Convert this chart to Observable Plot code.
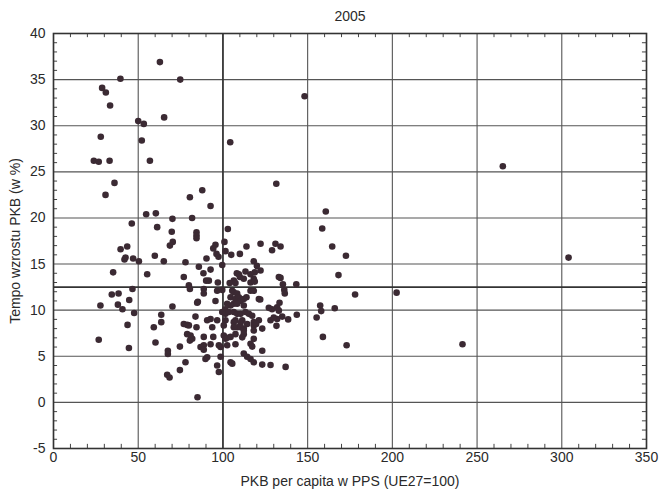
<!DOCTYPE html>
<html>
<head>
<meta charset="utf-8">
<script src="https://cdn.jsdelivr.net/npm/d3@7"></script>
<script src="https://cdn.jsdelivr.net/npm/@observablehq/plot@0.6"></script>
<style>
  html, body { margin: 0; padding: 0; background: #fff; }
</style>
</head>
<body>
<div id="chart"></div>
<script>
const title = "2005";
const xLabel = "PKB per capita w PPS (UE27=100)";
const yLabel = "Tempo wzrostu PKB (w %)";
const xTicks = [0, 50, 100, 150, 200, 250, 300, 350];
const yTicks = [-5, 0, 5, 10, 15, 20, 25, 30, 35, 40];
const refX = 100;
const refY = 12.5;

// GDP per capita in PPS (EU27=100)
const gdpPerCapita = [
  39.5,28.7,30.9,33.4,62.8,74.8,50,53.3,65.3,27.9,52.1,23.8,26.7,33.1,56.9,36,30.7,104.3,80.5,87.8,92.7,148.2,265.2,131.5,160.7,54.7,60.4,70.2,81.8,
  46.2,61.2,69.8,84.4,84.4,84.4,102.9,70.4,68.7,100.9,101.5,95.6,94.3,96.2,97.4,90.3,104.9,110,113.9,122.2,129,131,134,158.6,164.5,172.6,304,
  39.6,43.5,42.5,41.9,47,50.4,59.8,65.1,77.9,118.2,
  85.8,92.7,99.6,120,122.2,108.2,110,113.3,118.8,118.2,134,35.2,55.3,76.9,168.2,143.3,135.4,88.5,109.4,112.3,116.3,116.3,118.8,106.4,107.4,104,133,91.7,97,90.1,79.9,80.5,88.7,88.7,46.6,136.2,136.5,
  96.6,99.6,105.5,106.4,108.4,104.5,107.4,109.4,110.4,112.3,106.4,104.5,102.5,108.4,112.3,116.3,118.2,121.2,113.9,122,95.6,85.2,84.8,129,132,133,133.4,127.1,166,157.4,158,155.3,178,202.5,34.4,38.4,44.7,27.7,38,40.7,70.2,101.4,
  99.6,101.5,103.5,106.4,108.4,110.4,113.3,115.3,117.3,92.7,96.6,101.5,106.4,107.4,111.4,114.3,118.2,121.2,128.1,132,135,138.5,143.6,130,93.7,100.5,106.4,112.3,118.2,123.2,131.6,119.6,47.6,63.6,63.6,59.2,43.7,76.9,78.9,79.9,83.8,84.4,90.7,110.4,108.4,110.4,112.3,118.2,
  100.5,101.5,107.4,112.3,111.4,118.2,88.7,94.3,102.5,104.5,88.7,92.7,97.6,98.6,102.5,107.4,116.3,117.3,123.2,78.9,80.9,81.9,80.5,60.2,74.6,86.8,88.7,67.5,67.5,159,173,241.4,26.7,44.5,112.3,
  89.7,90.7,98.6,114.3,116.3,118.2,123.2,128.1,137,104.5,105.5,96.6,97.6,77.9,74.6,67.1,68.5,85
];

// GDP growth rate (%)
const gdpGrowth = [
  35.1,34.1,33.6,32.2,36.9,35.0,30.5,30.2,30.9,28.8,28.4,26.2,26.1,26.2,26.2,23.8,22.5,28.2,22.25,23.0,21.3,33.2,25.6,23.7,20.7,20.4,20.5,19.9,20.0,
  19.4,19.0,18.5,18.45,18.1,17.8,18.8,17.4,17.0,17.4,16.4,17.1,16.7,16.1,15.8,15.6,16.0,16.1,16.9,17.2,16.5,17.2,16.9,18.85,16.9,15.9,15.7,
  16.6,16.9,15.7,15.5,15.6,15.3,15.9,15.3,15.2,15.3,
  14.7,14.4,14.9,14.8,14.3,14.0,13.6,14.2,14.1,13.4,13.5,14.1,13.9,13.6,13.8,12.8,12.8,14.0,13.9,13.4,13.9,13.0,13.1,13.2,12.95,12.95,13.6,13.2,13.0,13.2,12.7,12.3,12.3,11.8,12.3,12.2,11.8,
  12.1,12.2,12.1,11.95,11.8,11.4,11.2,11.4,11.0,11.2,10.7,10.5,10.7,10.7,10.5,12.1,12.1,11.2,11.4,11.15,11.0,10.9,10.8,10.1,10.3,9.95,10.8,10.25,10.2,10.5,9.9,9.2,11.7,11.9,11.7,11.8,11.1,10.5,10.6,10.1,10.4,10.1,
  9.8,9.6,9.8,9.8,9.6,9.6,9.8,9.6,9.4,9.05,8.9,8.9,8.7,8.9,8.9,8.5,8.7,8.9,8.9,9.05,9.3,9.0,9.5,9.2,8.15,8.35,8.15,8.0,8.35,8.0,8.3,8.5,9.7,9.5,8.7,8.15,8.4,8.5,8.4,8.35,9.3,8.15,8.9,8.6,8.15,8.15,7.8,7.8,
  7.25,6.9,7.4,7.4,7.05,6.9,7.1,7.1,7.0,7.1,6.2,6.3,6.2,6.0,6.2,6.3,6.35,6.05,5.6,7.4,7.25,6.9,6.7,6.5,6.05,6.0,5.7,5.6,5.25,7.1,6.2,6.3,6.8,5.9,5.3,
  4.7,4.9,4.95,4.95,4.7,4.35,4.1,4.05,3.85,4.35,4.2,4.0,3.3,4.35,3.5,3.0,2.7,0.55
];

const data = gdpPerCapita.map((x, i) => ({x, y: gdpGrowth[i]}));

const minorX = d3.range(0, 351, 10).filter(v => v % 50 !== 0);
const minorY = d3.range(-5, 41, 1).filter(v => v % 5 !== 0);

const font = "'Liberation Sans', Arial, sans-serif";
const gridColor = "#555";
const fmt = d => String(d);

const chart = Plot.plot({
  width: 661,
  height: 497,
  marginLeft: 53,
  marginRight: 15,
  marginTop: 33,
  marginBottom: 49,
  style: {fontFamily: font, fontSize: "14px", background: "#fff", color: "#2a2a2a"},
  x: {domain: [0, 350], ticks: xTicks},
  y: {domain: [-5, 40], ticks: yTicks},
  marks: [
    Plot.ruleX(xTicks, {stroke: gridColor, strokeWidth: 1.1}),
    Plot.ruleY(yTicks, {stroke: gridColor, strokeWidth: 1.1}),
    Plot.ruleX(minorX, {y1: -5, y2: -4.55, stroke: "#444", strokeWidth: 1}),
    Plot.ruleX(minorX, {y1: 39.55, y2: 40, stroke: "#444", strokeWidth: 1}),
    Plot.ruleY(minorY, {x1: 0, x2: 2.4, stroke: "#444", strokeWidth: 1}),
    Plot.ruleY(minorY, {x1: 347.6, x2: 350, stroke: "#444", strokeWidth: 1}),
    Plot.ruleX([refX], {stroke: "#333", strokeWidth: 1.6}),
    Plot.ruleY([refY], {stroke: "#333", strokeWidth: 1.6}),
    Plot.dot(data, {x: "x", y: "y", r: 3.3, fill: "#3b2a33", stroke: "none"}),
    Plot.frame({stroke: "#333", strokeWidth: 1.6}),
    Plot.axisX({ticks: xTicks, tickSize: 0, tickPadding: 4, tickFormat: fmt, label: null, fontSize: 14}),
    Plot.axisY({ticks: yTicks, tickSize: 0, tickPadding: 8, tickFormat: fmt, label: null, fontSize: 14}),
    Plot.text([title], {frameAnchor: "top", dy: -17, lineAnchor: "middle", fontSize: 14, fill: "#2a2a2a"}),
    Plot.text([xLabel], {frameAnchor: "bottom", dy: 33, lineAnchor: "middle", fontSize: 14, fill: "#2a2a2a"}),
    Plot.text([yLabel], {frameAnchor: "left", dx: -38, rotate: -90, textAnchor: "middle", lineAnchor: "middle", fontSize: 14, fill: "#2a2a2a"})
  ]
});

document.getElementById("chart").appendChild(chart);
</script>
</body>
</html>
